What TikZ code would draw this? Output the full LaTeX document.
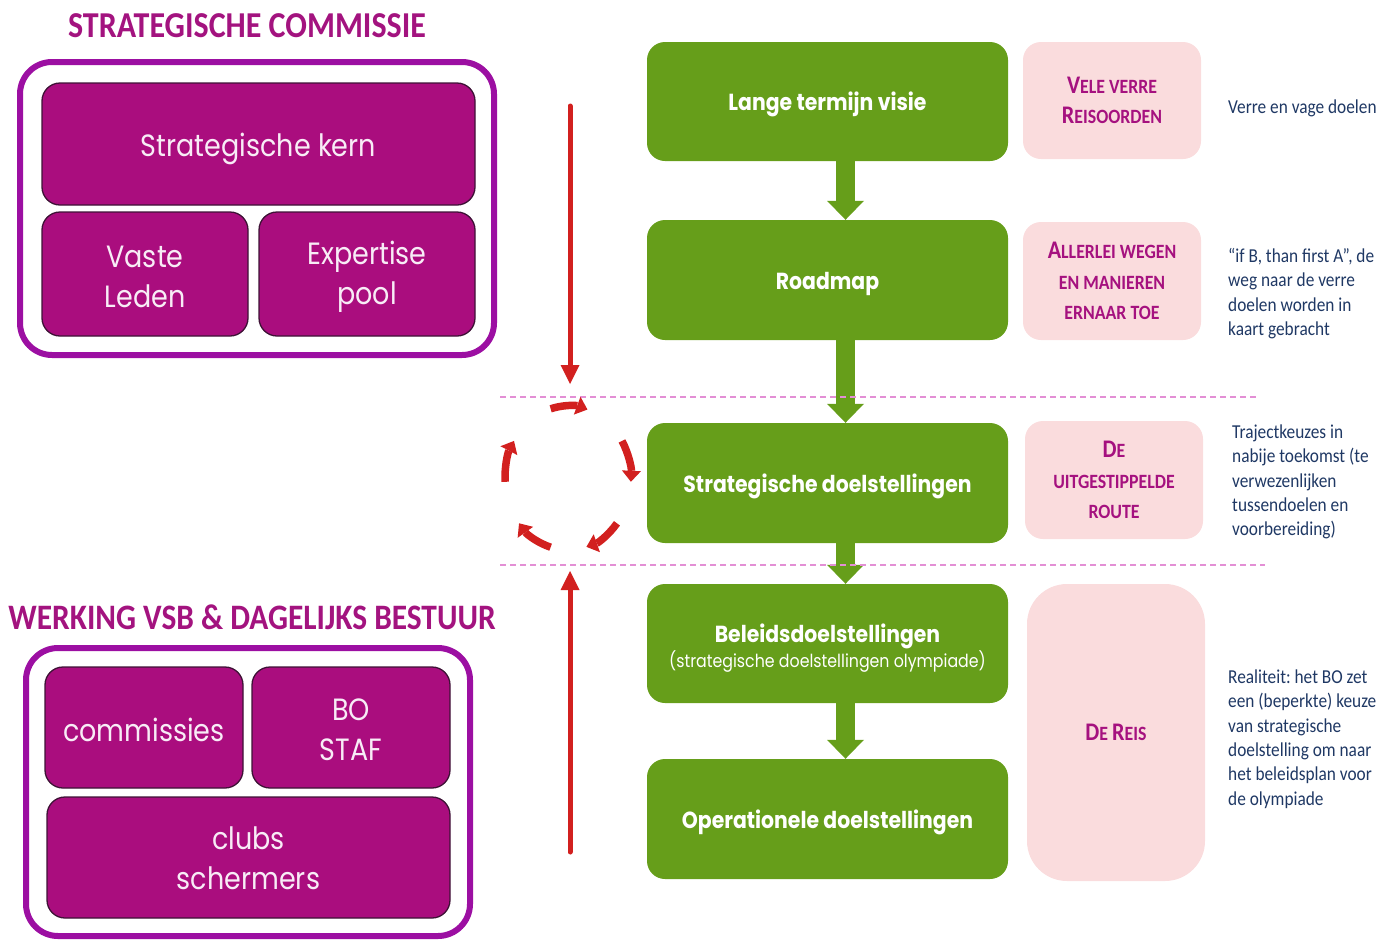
\documentclass[tikz,border=0pt]{standalone}
\usepackage{fontspec}
\setmainfont{Carlito}
\newfontfamily\gothic{Poppins}
\usetikzlibrary{arrows.meta,calc}
\frenchspacing
\definecolor{mag}{HTML}{AA0D7E}
\definecolor{magborder}{HTML}{3E1236}
\definecolor{magtext}{HTML}{F8ECF6}
\definecolor{outerc}{HTML}{9C0FA2}
\definecolor{titlec}{HTML}{A3137F}
\definecolor{grn}{HTML}{669E1A}
\definecolor{pinkbox}{HTML}{FADCDD}
\definecolor{pinktext}{HTML}{A5117F}
\definecolor{navy}{HTML}{1F3864}
\definecolor{redc}{HTML}{D2201F}
\definecolor{dashc}{HTML}{E38FD5}
\newcommand{\bc}[1]{{\fontsize{22.2}{29}\selectfont #1}}
\newcommand{\lowr}[2]{\raisebox{#1}[\height][\depth]{#2}}
\begin{document}
\begin{tikzpicture}[x=1pt,y=-1pt,
  outerbox/.style={draw=outerc, line width=6pt, rounded corners=32pt, inner sep=0pt},
  magbox/.style={draw=magborder, line width=1.3pt, fill=mag, rounded corners=18pt,
    text=magtext, font=\gothic\fontsize{27}{35}\selectfont, align=center, inner sep=0pt, yscale=1.14},
  gbox/.style={fill=grn, rounded corners=18pt, text=white, minimum width=361pt,
    font=\gothic\bfseries\fontsize{20.4}{24}\selectfont, align=center, inner sep=0pt, yscale=1.14},
  pbox/.style={fill=pinkbox, rounded corners=18pt, text=pinktext, minimum width=178pt,
    font=\bfseries\fontsize{17.8}{26.8}\selectfont, align=center, inner sep=0pt, yscale=1.14},
  title/.style={text=titlec, font=\bfseries\fontsize{32}{33}\selectfont, inner sep=0pt, yscale=1.14},
  side/.style={text=navy, font=\fontsize{17.3}{21.4}\selectfont\frenchspacing, align=left, inner sep=0pt, anchor=north west, yscale=1.14},
  garrow/.style={draw=grn, line width=19pt, -{Triangle[width=37pt,length=19pt,line width=0pt]}},
  redarrow/.style={draw=redc, line width=5pt, line cap=round, -{Triangle[width=19pt,length=19pt,line width=0pt]}},
  cyclearc/.style={draw=redc, line width=7.5pt, -{Triangle[width=19pt,length=11pt,line width=0pt]}},
  dashline/.style={draw=dashc, line width=2pt, dash pattern=on 6pt off 4pt}
]
\useasboundingbox (0,0) rectangle (1395,940);

% ---- left top: strategische commissie
\node[title] (t1) at (247,26) {STRATEGISCHE COMMISSIE};
\node[outerbox, minimum width=474pt, minimum height=293pt] (ob1) at (257,208.5) {};
\node[magbox, minimum width=433pt, minimum height=122pt/1.14] (sk) at (258.5,144) {\lowr{-4.4pt}{Strategische kern}};
\node[magbox, minimum width=206pt, minimum height=124pt/1.14] (vl) at (145,274) {\rule{0pt}{23.5pt}Vaste\\Leden};
\node[magbox, minimum width=216pt, minimum height=124pt/1.14] (ep) at (367,274) {\rule{0pt}{25pt}Expertise\\pool};

% ---- left bottom: werking
\node[title, font=\bfseries\fontsize{31.4}{33}\selectfont] (t2) at (252,617) {WERKING VSB \& DAGELIJKS BESTUUR};
\node[outerbox, minimum width=444pt, minimum height=288pt] (ob2) at (248,792) {};
\node[magbox, minimum width=198pt, minimum height=121pt/1.14] (cm) at (144,727.5) {\lowr{-2pt}{commissies}};
\node[magbox, minimum width=198pt, minimum height=121pt/1.14] (bo) at (351,727.5) {\rule{0pt}{23pt}BO\\STAF};
\node[magbox, minimum width=403pt, minimum height=121pt/1.14] (cl) at (248.5,857.5) {\rule{0pt}{22pt}clubs\\schermers};

% ---- green column
\node[gbox, minimum height=119pt/1.14] (g1) at (827.5,101.5) {\lowr{-2.7pt}{Lange termijn visie}};
\node[gbox, minimum height=120pt/1.14] (g2) at (827.5,280) {\lowr{-3.3pt}{Roadmap}};
\node[gbox, minimum height=120pt/1.14] (g3) at (827.5,483) {\lowr{-3pt}{Strategische doelstellingen}};
\node[gbox, minimum height=119pt/1.14] (g4) at (827.5,643.5) {\rule{0pt}{24pt}Beleidsdoelstellingen\\[-2pt]{\mdseries\fontsize{15.8}{18}\selectfont (strategische doelstellingen olympiade)}};
\node[gbox, minimum height=120pt/1.14] (g5) at (827.5,819) {\lowr{-3pt}{Operationele doelstellingen}};

\draw[garrow] ([xshift=18pt]g1.south) -- ([xshift=18pt]g2.north);
\draw[garrow] ([xshift=18pt]g2.south) -- ([xshift=18pt]g3.north);
\draw[garrow] ([xshift=18pt]g3.south) -- ([xshift=18pt]g4.north);
\draw[garrow] ([xshift=18pt]g4.south) -- ([xshift=18pt]g5.north);

% ---- pink column
\node[pbox, minimum height=117pt/1.14] (p1) at (1112,100.5) {\bc{V}ELE VERRE\\\bc{R}EISOORDEN};
\node[pbox, minimum height=118pt/1.14] (p2) at (1112,281) {\bc{A}LLERLEI WEGEN\\EN MANIEREN\\ERNAAR TOE};
\node[pbox, minimum height=118pt/1.14] (p3) at (1114,480) {\bc{D}E\\UITGESTIPPELDE\\ROUTE};
\node[pbox, rounded corners=40pt, minimum height=297pt/1.14] (p4) at (1116,732.5) {\bc{D}E \bc{R}EIS};

% ---- side texts
\node[side] (s1) at (1228,95.9) {\strut Verre en vage doelen};
\node[side] (s2) at (1228,244.9) {\strut “if B, than first A”, de\\weg naar de verre\\doelen worden in\\kaart gebracht};
\node[side] (s3) at (1232,420.9) {\strut Trajectkeuzes in\\nabije toekomst (te\\verwezenlijken\\tussendoelen en\\voorbereiding)};
\node[side] (s4) at (1228,665.9) {\strut Realiteit: het BO zet\\een (beperkte) keuze\\van strategische\\doelstelling om naar\\het beleidsplan voor\\de olympiade};

% ---- dashed separators
\coordinate (d1a) at (500,397);
\coordinate (d1b) at (1258,397);
\coordinate (d2a) at (500,565);
\coordinate (d2b) at (1265,565);
\draw[dashline] (d1a) -- (d1b);
\draw[dashline] (d2a) -- (d2b);

% ---- red arrows
\coordinate (ra1) at (570,106);
\coordinate (ra2) at (570,384);
\coordinate (rb1) at (570,852);
\coordinate (rb2) at (570,571);
\draw[redarrow] (ra1) -- (ra2);
\draw[redarrow] (rb1) -- (rb2);

% ---- cycle of arrows
\coordinate (cc) at (568,478);
\foreach \a/\b in {-106/-72, -31/3, 39/73, 106/141, 177/211}{
  \draw[cyclearc] ($(cc)+(\a:63 and 72)$) arc[start angle=\a, end angle=\b, x radius=63, y radius=72];
}
\end{tikzpicture}
\end{document}
